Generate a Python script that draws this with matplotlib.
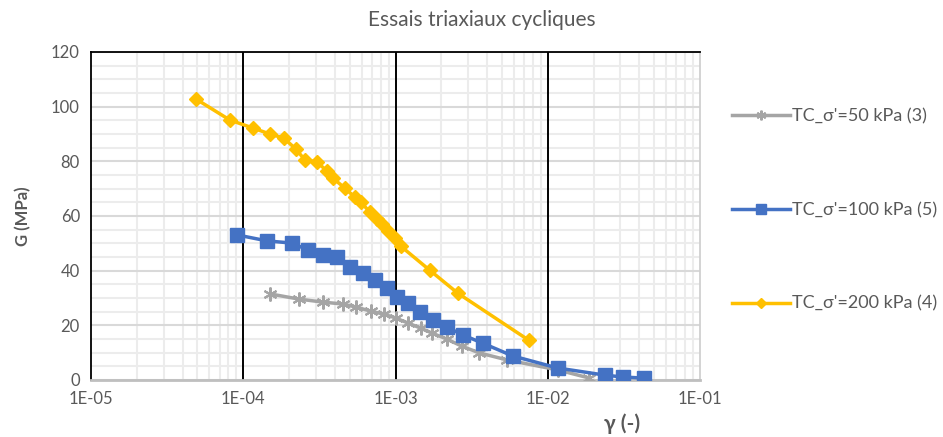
import numpy as np
import matplotlib.pyplot as plt
from matplotlib.ticker import FixedLocator, LogLocator, FuncFormatter, MultipleLocator

plt.rcParams['font.family'] = ['Lato', 'DejaVu Sans']

# TC sigma'=50 kPa (3)
gam_50 = [1.50e-4, 2.32e-4, 3.33e-4, 4.50e-4, 5.48e-4, 6.88e-4, 8.37e-4, 1.00e-3,
          1.20e-3, 1.46e-3, 1.73e-3, 2.17e-3, 2.72e-3, 3.56e-3, 5.44e-3, 1.16e-2, 1.88e-2]
G_50 = [31.5, 29.6, 28.5, 27.8, 26.7, 25.2, 24.1, 22.7,
        20.9, 19.0, 17.2, 15.0, 12.4, 9.9, 7.3, 3.7, 0.7]

# TC sigma'=100 kPa (5)
gam_100 = [9.08e-5, 1.43e-4, 2.08e-4, 2.66e-4, 3.33e-4, 4.11e-4, 5.0e-4, 6.09e-4,
           7.31e-4, 8.75e-4, 1.03e-3, 1.20e-3, 1.44e-3, 1.75e-3, 2.17e-3, 2.76e-3,
           3.73e-3, 5.88e-3, 1.16e-2, 2.36e-2, 3.10e-2, 4.26e-2]
G_100 = [53.1, 50.9, 50.1, 47.6, 45.7, 45.0, 41.3, 39.1,
         36.6, 33.7, 30.4, 28.2, 24.9, 22.0, 19.4, 16.5,
         13.5, 8.8, 4.4, 1.8, 1.1, 0.7]

# TC sigma'=200 kPa (4)
gam_200 = [4.89e-5, 8.17e-5, 1.156e-4, 1.495e-4, 1.846e-4, 2.214e-4, 2.54e-4, 3.04e-4,
           3.54e-4, 3.87e-4, 4.65e-4, 5.40e-4, 5.91e-4, 6.77e-4, 7.53e-4, 8.11e-4,
           8.88e-4, 9.88e-4, 1.081e-3, 1.675e-3, 2.56e-3, 7.48e-3]
G_200 = [102.8, 95.1, 92.2, 90.0, 88.5, 84.5, 80.5, 79.8,
         76.5, 73.9, 70.2, 66.9, 65.1, 61.5, 58.9, 57.1,
         54.5, 52.0, 49.0, 40.2, 31.8, 14.6]

labels = ["TC_σ'=50 kPa (3)", "TC_σ'=100 kPa (5)", "TC_σ'=200 kPa (4)"]
xticks = [1e-5, 1e-4, 1e-3, 1e-2, 1e-1]

txt = '#595959'
fig = plt.figure(figsize=(9.43, 4.37), dpi=100)
ax = fig.add_axes([91/943, 1-380/437, 609/943, 328/437])
ax.set_xscale('log')
ax.set_xlim(1e-5, 1e-1)
ax.set_ylim(0, 120)

ax.xaxis.set_major_locator(FixedLocator(xticks))
ax.xaxis.set_minor_locator(LogLocator(base=10, subs=np.arange(2, 10)))
ax.xaxis.set_minor_formatter(FuncFormatter(lambda v, p: ''))
ax.xaxis.set_major_formatter(FuncFormatter(lambda v, p: '1E-%02d' % round(-np.log10(v))))
ax.yaxis.set_major_locator(MultipleLocator(20))
ax.yaxis.set_minor_locator(MultipleLocator(5))

ax.set_axisbelow(True)
ax.grid(which='minor', color='#ececec', lw=1.5)
ax.grid(which='major', axis='y', color='#d9d9d9', lw=1.5)
# decade lines in black, drawn over the light grid
for xv in xticks[1:-1]:
    ax.axvline(xv, color='black', lw=1.4, zorder=1.5)

ax.tick_params(which='both', length=0, colors=txt, labelsize=12, pad=8)
for s in ['left', 'top']:
    ax.spines[s].set_color('black')
    ax.spines[s].set_linewidth(1.3)
ax.spines['right'].set_color('#d0d0d0')
ax.spines['right'].set_linewidth(1.3)
ax.spines['bottom'].set_color('#bfbfbf')
ax.spines['bottom'].set_linewidth(2)

ax.plot(gam_50, G_50, color='#a5a5a5', lw=2.5, marker=(6, 2, 0), ms=10, mew=1.5,
        label=labels[0], zorder=3)
ax.plot(gam_100, G_100, color='#4472c4', lw=2.5, marker='s', ms=10,
        label=labels[1], zorder=4)
ax.plot(gam_200, G_200, color='#ffc000', lw=2.5, marker='D', ms=7.5,
        label=labels[2], zorder=5)

h, l = ax.get_legend_handles_labels()
leg = fig.legend(h, l, loc='upper left', bbox_to_anchor=(716/943, 1-92/437),
                 frameon=False, fontsize=13, labelspacing=4.3, handlelength=3.2,
                 handletextpad=0.1, markerscale=0.7)
for t in leg.get_texts():
    t.set_color(txt)

fig.text(482/943, 1-20/437, 'Essais triaxiaux cycliques', ha='center', va='center',
         fontsize=15, color=txt)
ax.set_ylabel('G (MPa)', fontsize=12, fontweight='bold', color=txt, labelpad=14)
fig.text(622/943, 1-424/437, 'γ (-)', ha='center', va='center', fontsize=15,
         fontweight='bold', color=txt)

fig.savefig('out.png', dpi=100)
